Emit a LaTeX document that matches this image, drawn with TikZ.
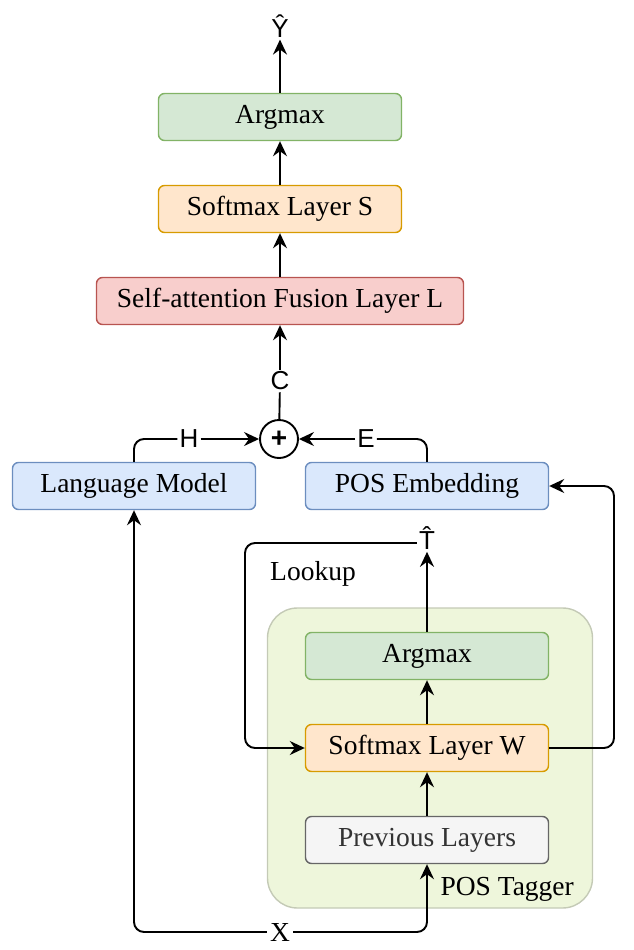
\documentclass[tikz,border=0pt]{standalone}
\usepackage{fontspec}
\setmainfont{Liberation Serif}
\newfontfamily\labfont{Liberation Sans}
\usetikzlibrary{arrows.meta}

\definecolor{grnfill}{HTML}{D5E8D4}
\definecolor{grnline}{HTML}{82B366}
\definecolor{orgfill}{HTML}{FFE6CC}
\definecolor{orgline}{HTML}{D79B00}
\definecolor{redfill}{HTML}{F8CECC}
\definecolor{redline}{HTML}{B85450}
\definecolor{bluefill}{HTML}{DAE8FC}
\definecolor{blueline}{HTML}{6C8EBF}
\definecolor{grayfill}{HTML}{F5F5F5}
\definecolor{grayline}{HTML}{666666}
\definecolor{tagfill}{HTML}{EEF6DB}
\definecolor{tagline}{HTML}{C4CAB6}

\begin{document}
\begin{tikzpicture}[x=1pt,y=-1pt,
  box/.style={rounded corners=6pt, line width=1.4pt, minimum width=243pt, minimum height=47pt, inner sep=0pt, font=\fontsize{27.5}{32}\selectfont},
  lbl/.style={inner sep=2pt, font=\labfont\fontsize{26}{30}\selectfont},
  arr/.style={line width=1.9pt, -{Stealth[length=15pt,width=14pt,inset=5pt]}, rounded corners=10pt},
  wire/.style={line width=1.9pt, rounded corners=10pt}]

\useasboundingbox (0,0) rectangle (634,950);

\node[rounded corners=30pt, draw=tagline, fill=tagfill, line width=1.4pt, minimum width=325pt, minimum height=300pt] (tagger) at (430,758) {};
\node[anchor=base east, inner sep=0pt, font=\fontsize{27.5}{32}\selectfont] (taglabel) at (574,895) {POS Tagger};

\node[box, draw=grnline, fill=grnfill] (argtop) at (280,117) {Argmax};
\node[box, draw=orgline, fill=orgfill] (softS) at (280,209) {Softmax Layer S};
\node[box, draw=redline, fill=redfill, minimum width=367pt] (fusion) at (280,301) {Self-attention Fusion Layer L};

\node[box, draw=blueline, fill=bluefill] (lm) at (134,486) {Language Model};
\node[box, draw=blueline, fill=bluefill] (posemb) at (427,486) {POS Embedding};

\node[box, draw=grnline, fill=grnfill] (argW) at (427,656) {Argmax};
\node[box, draw=orgline, fill=orgfill] (softW) at (427,748) {Softmax Layer W};
\node[box, draw=grayline, fill=grayfill, text=black!80] (prev) at (427,840) {Previous Layers};

\node[circle, draw, line width=1.9pt, minimum size=38pt, inner sep=0pt, font=\labfont\fontsize{28}{30}\selectfont\bfseries] (plus) at (279,439) {+};

\node[lbl] (yhat) at (280,26) {\^{Y}};
\node[lbl] (c) at (280,381) {C};
\node[lbl] (h) at (189,439) {H};
\node[lbl] (e) at (366,439) {E};
\node[lbl] (that) at (427,538) {\^{T}};
\node[inner sep=3pt, font=\fontsize{27.5}{32}\selectfont] (x) at (280,932) {X};
\node[anchor=west, inner sep=0pt, font=\fontsize{27.5}{32}\selectfont] (lookup) at (270,574) {Lookup};

\coordinate (lookcorner) at (245,543);
\coordinate (loopcorner) at (614,748);

\draw[arr] (argtop) -- (yhat);
\draw[arr] (softS) -- (argtop);
\draw[arr] (fusion) -- (softS);
\draw[arr] (c) -- (fusion);
\draw[wire] (plus) -- (c);

\draw[wire] (lm.north) |- (h.west);
\draw[arr] (h) -- (plus);
\draw[wire] (posemb.north) |- (e.east);
\draw[arr] (e) -- (plus);

\draw[arr] (prev) -- (softW);
\draw[arr] (softW) -- (argW);
\draw[arr] (argW) -- (that);

\draw[arr] (that.west |- lookcorner) -- (lookcorner) |- (softW.west);
\draw[arr] (softW.east) -- (loopcorner) |- (posemb.east);

\draw[arr] (x.west) -| (lm.south);
\draw[arr] (x.east) -| (prev.south);

\end{tikzpicture}
\end{document}
